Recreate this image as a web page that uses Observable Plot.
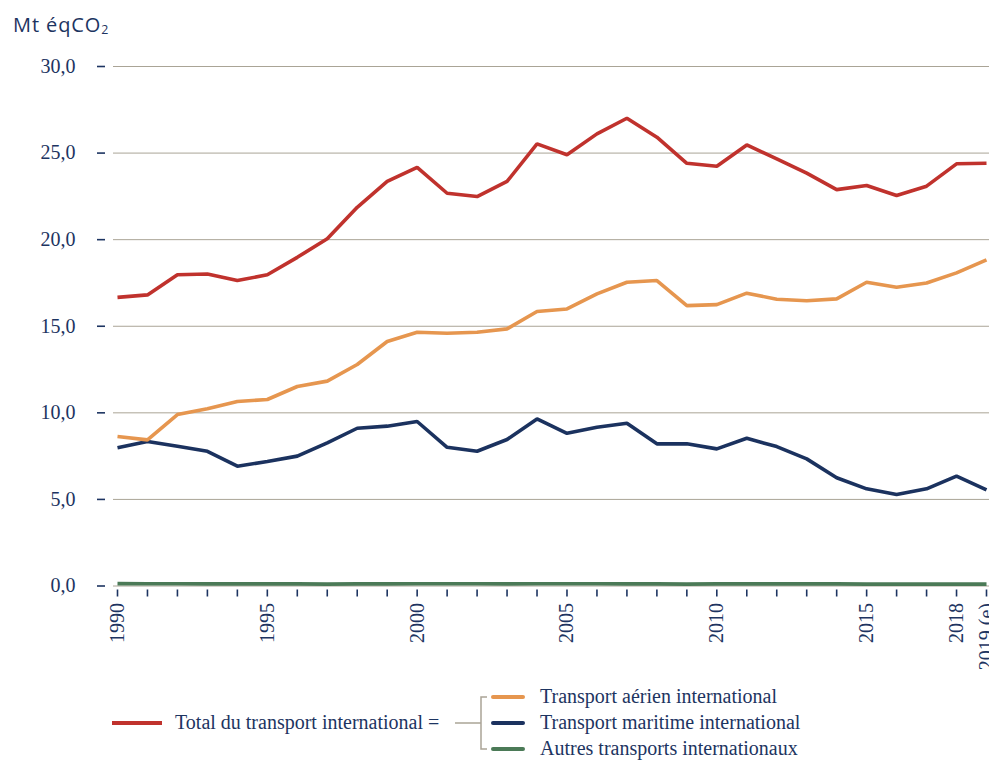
<!DOCTYPE html>
<html>
<head>
<meta charset="utf-8">
<script src="https://cdn.jsdelivr.net/npm/d3@7"></script>
<script src="https://cdn.jsdelivr.net/npm/@observablehq/plot@0.6"></script>
<style>
  html, body { margin: 0; padding: 0; background: #fff; }
  #wrap { position: relative; width: 989px; height: 760px; overflow: hidden; }
  #title { position: absolute; left: 13px; top: 13px; font-family: "Open Sans", sans-serif; font-size: 20px; line-height: 24px; color: #1d3461; letter-spacing: 0.9px; }
  #title sub { font-size: 0.62em; vertical-align: -0.15em; }
  #chart { position: absolute; left: 0; top: 44px; }
  #legend { position: absolute; left: 0; top: 672px; }
</style>
</head>
<body>
<div id="wrap">
  <div id="title">Mt éqCO<sub>2</sub></div>
  <div id="chart"></div>
  <div id="legend"></div>
</div>
<script>
const years = [1990,1991,1992,1993,1994,1995,1996,1997,1998,1999,2000,2001,2002,2003,2004,2005,2006,2007,2008,2009,2010,2011,2012,2013,2014,2015,2016,2017,2018,2019];
const total = [16.67,16.81,17.97,18.02,17.64,17.97,18.98,20.05,21.87,23.36,24.18,22.68,22.49,23.36,25.53,24.90,26.11,27.01,25.92,24.41,24.24,25.47,24.67,23.84,22.89,23.13,22.55,23.09,24.38,24.41];
const aerien = [8.63,8.44,9.90,10.23,10.65,10.77,11.52,11.83,12.79,14.12,14.65,14.60,14.65,14.85,15.85,16.00,16.87,17.54,17.64,16.19,16.25,16.91,16.56,16.47,16.58,17.54,17.25,17.50,18.08,18.83];
const maritime = [7.98,8.34,8.07,7.78,6.92,7.19,7.50,8.27,9.11,9.23,9.50,8.01,7.78,8.46,9.65,8.82,9.17,9.40,8.21,8.21,7.92,8.53,8.05,7.34,6.25,5.61,5.28,5.61,6.34,5.55];
const autres = [0.14,0.13,0.13,0.12,0.12,0.12,0.12,0.11,0.12,0.12,0.13,0.13,0.13,0.12,0.13,0.13,0.13,0.12,0.12,0.11,0.12,0.12,0.12,0.12,0.12,0.11,0.11,0.11,0.11,0.11];
const yTicks = [0,5,10,15,20,25,30];
const xLabelYears = [1990,1995,2000,2005,2010,2015,2018,2019];
const xLabelTexts = ["1990","1995","2000","2005","2010","2015","2018","2019 (e)"];

const seriesNames = ["Autres transports internationaux","Transport maritime international","Transport aérien international","Total du transport international"];
const seriesValues = [autres, maritime, aerien, total];
const seriesColors = ["#4b7a57","#1b325f","#e6964f","#c0322d"];

const navy = "#1d3461";
const gridColor = "#aaa496";

const rows = seriesNames.flatMap((name, s) => years.map((yr, i) => ({year: yr, value: seriesValues[s][i], series: name})));
const fmt = d => d3.format(".1f")(d).replace(".", ",");
const xLabelMap = new Map(xLabelYears.map((y, i) => [y, xLabelTexts[i]]));

const chart = Plot.plot({
  width: 989,
  height: 628,
  marginLeft: 113,
  marginRight: 0,
  marginTop: 22,
  marginBottom: 86.5,
  style: {fontFamily: "'Liberation Serif', serif", fontSize: "20px", color: navy, background: "transparent"},
  x: {domain: [1990, 2019], insetLeft: 4, insetRight: 3},
  y: {domain: [0, 30]},
  color: {domain: seriesNames, range: seriesColors},
  marks: [
    Plot.gridY(yTicks, {stroke: gridColor, strokeOpacity: 1, strokeWidth: 1}),
    Plot.axisY(yTicks, {tickSize: 8, dx: -8, tickPadding: 22, tickFormat: fmt, label: null, stroke: navy, strokeWidth: 1.6, fill: navy}),
    Plot.axisX(years, {tickSize: 7, dy: 4, tickFormat: () => "", label: null, stroke: navy, strokeWidth: 1.6}),
    Plot.axisX(xLabelYears, {tickSize: 0, tickPadding: 17, tickRotate: -90, tickFormat: d => xLabelMap.get(d), label: null, fill: navy}),
    Plot.lineY(rows, {x: "year", y: "value", z: "series", stroke: "series", strokeWidth: 3.6, strokeLinejoin: "miter", strokeLinecap: "butt"})
  ]
});
document.getElementById("chart").appendChild(chart);

// Legend
const lg = d3.select("#legend").append("svg").attr("width", 989).attr("height", 88)
  .style("font-family", "'Liberation Serif', serif").style("font-size", "20px");
const rowY = [25, 51, 77];
lg.append("line").attr("x1", 112).attr("x2", 162).attr("y1", rowY[1]).attr("y2", rowY[1]).attr("stroke", seriesColors[3]).attr("stroke-width", 4);
lg.append("text").attr("x", 175).attr("y", rowY[1]).attr("dy", "0.32em").attr("fill", navy).text(seriesNames[3] + " =");
lg.append("line").attr("x1", 455).attr("x2", 481).attr("y1", rowY[1]).attr("y2", rowY[1]).attr("stroke", gridColor).attr("stroke-width", 1.5);
lg.append("path").attr("d", `M487,${rowY[0]}H481V${rowY[2]}H487`).attr("fill", "none").attr("stroke", gridColor).attr("stroke-width", 1.5);
const items = [2, 1, 0];
items.forEach((s, k) => {
  lg.append("line").attr("x1", 493).attr("x2", 523).attr("y1", rowY[k]).attr("y2", rowY[k]).attr("stroke", seriesColors[s]).attr("stroke-width", 4).attr("stroke-linecap", "round");
  lg.append("text").attr("x", 540).attr("y", rowY[k]).attr("dy", "0.32em").attr("fill", navy).text(seriesNames[s]);
});
</script>
</body>
</html>
